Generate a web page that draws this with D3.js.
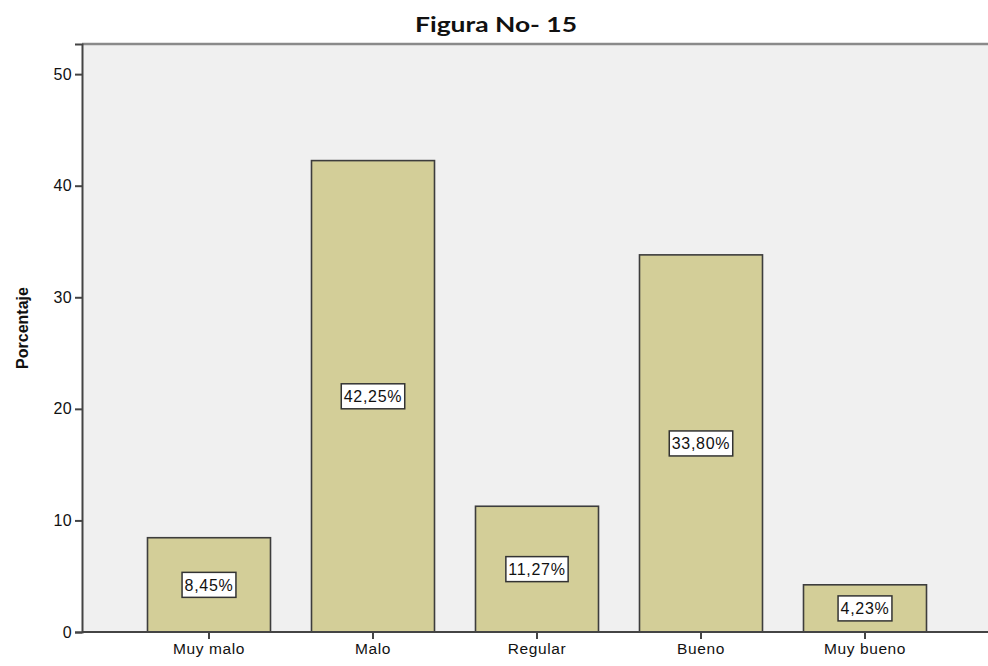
<!DOCTYPE html>
<html>
<head>
<meta charset="utf-8">
<script src="https://cdn.jsdelivr.net/npm/d3@7"></script>
<style>
  html, body { margin: 0; padding: 0; background: #ffffff; }
  svg { display: block; }
</style>
</head>
<body>
<svg id="chart" width="988" height="666"></svg>
<script>
// Response categories and their percentages
const categories = ["Muy malo", "Malo", "Regular", "Bueno", "Muy bueno"];
const percentages = [8.45, 42.25, 11.27, 33.80, 4.23];
const yTicks = [0, 10, 20, 30, 40, 50];
const titleText = "Figura No- 15";
const yLabel = "Porcentaje";

const svg = d3.select("#chart");

// Plot frame
const plot = { left: 82, top: 44, right: 988, bottom: 632 };

const y = d3.scaleLinear().domain([0, 52.7]).range([plot.bottom, plot.top]);
const x = d3.scaleBand()
  .domain(categories)
  .range([127, 947])
  .paddingInner(0.25)
  .paddingOuter(0.125);

const fmt = v => v.toFixed(2).replace(".", ",") + "%";
const SANS = "'Liberation Sans', Arial, sans-serif";

// Background of the plot area
svg.append("rect")
  .attr("x", plot.left).attr("y", plot.top)
  .attr("width", plot.right - plot.left).attr("height", plot.bottom - plot.top)
  .attr("fill", "#f0f0f0");

// Top frame line
svg.append("line")
  .attr("x1", plot.left).attr("x2", plot.right)
  .attr("y1", plot.top).attr("y2", plot.top)
  .attr("stroke", "#8a8a8a").attr("stroke-width", 2.5);

// Bars
svg.append("g").selectAll("rect")
  .data(categories)
  .join("rect")
  .attr("x", d => x(d))
  .attr("y", (d, i) => y(percentages[i]))
  .attr("width", x.bandwidth())
  .attr("height", (d, i) => y(0) - y(percentages[i]))
  .attr("fill", "#d3ce98")
  .attr("stroke", "#3d3d3d")
  .attr("stroke-width", 1.6);

// Value labels in boxes at mid-height of each bar
const lab = svg.append("g").selectAll("g")
  .data(categories)
  .join("g")
  .attr("transform", (d, i) => `translate(${x(d) + x.bandwidth() / 2},${y(percentages[i] / 2)})`);

lab.append("text")
  .attr("text-anchor", "middle")
  .attr("dy", "0.36em")
  .style("font-family", SANS)
  .style("font-size", "16px")
  .style("letter-spacing", "0.7px")
  .attr("fill", "#111")
  .text((d, i) => fmt(percentages[i]));

lab.each(function () {
  const g = d3.select(this);
  const bb = g.select("text").node().getBBox();
  g.insert("rect", "text")
    .attr("x", bb.x - 2.5).attr("y", -12.5)
    .attr("width", bb.width + 5).attr("height", 25)
    .attr("fill", "#ffffff")
    .attr("stroke", "#333")
    .attr("stroke-width", 1.5);
});

// Y axis
const yAxis = svg.append("g")
  .attr("transform", `translate(${plot.left},0)`)
  .call(d3.axisLeft(y).tickValues(yTicks).tickSize(7).tickPadding(3).tickFormat(d3.format("d")));
yAxis.select(".domain").attr("stroke", "#444").attr("stroke-width", 2);
yAxis.selectAll(".tick line").attr("stroke", "#444").attr("stroke-width", 2);
yAxis.selectAll("text")
  .style("font-family", SANS)
  .style("font-size", "16px")
  .style("letter-spacing", "0.3px")
  .attr("fill", "#111");

// X axis
const xAxis = svg.append("g")
  .attr("transform", `translate(0,${plot.bottom})`)
  .call(d3.axisBottom(x).tickSize(7).tickPadding(4).tickSizeOuter(0));
xAxis.select(".domain")
  .attr("d", `M${plot.left},0H${plot.right}`)
  .attr("stroke", "#444").attr("stroke-width", 2);
xAxis.selectAll(".tick line").attr("stroke", "#444").attr("stroke-width", 2);
xAxis.selectAll("text")
  .style("font-family", SANS)
  .style("font-size", "15.5px")
  .style("letter-spacing", "0.6px")
  .attr("fill", "#111");

// Y axis title
svg.append("text")
  .attr("transform", `translate(28,${(plot.top + plot.bottom) / 2 - 10}) rotate(-90)`)
  .attr("text-anchor", "middle")
  .style("font-family", SANS)
  .style("font-weight", "bold")
  .style("font-size", "16px")
  .attr("fill", "#111")
  .text(yLabel);

// Figure caption
svg.append("text")
  .attr("x", 496).attr("y", 32)
  .attr("text-anchor", "middle")
  .attr("textLength", 162)
  .attr("lengthAdjust", "spacingAndGlyphs")
  .style("font-family", "Lato, sans-serif")
  .style("font-weight", "bold")
  .style("font-size", "21px")
  .attr("fill", "#111")
  .text(titleText);
</script>
</body>
</html>
